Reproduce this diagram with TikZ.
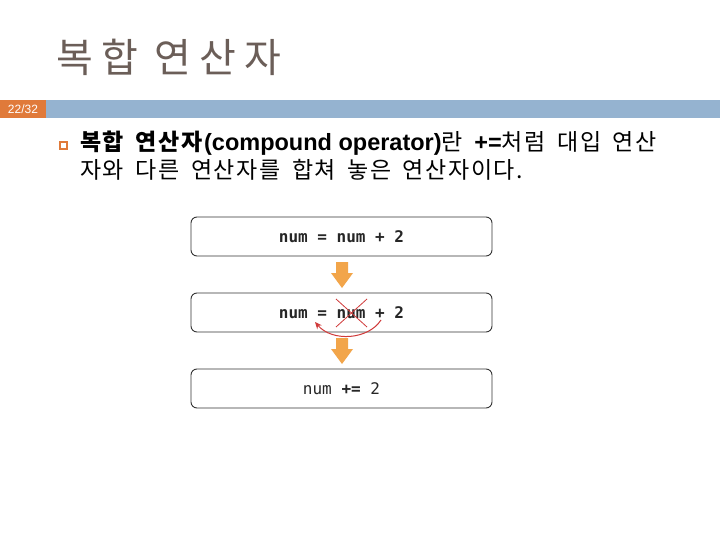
\documentclass[tikz,border=0pt]{standalone}
\usepackage{fontspec}
\setmainfont{Noto Sans CJK KR}
\newfontfamily\krfont[WordSpace=1.7,LetterSpace=7]{Noto Sans CJK KR}
\newfontfamily\krtitle[LetterSpace=20]{Noto Sans CJK KR}
\newfontfamily\latfont{Liberation Sans}
\newfontfamily\monofont{DejaVu Sans Mono}
\usetikzlibrary{arrows.meta}
\definecolor{titlegray}{HTML}{6B5E58}
\definecolor{barblue}{HTML}{95B3D0}
\definecolor{barorange}{HTML}{E07A3A}
\definecolor{arroworange}{HTML}{F2A54A}
\definecolor{crossred}{HTML}{D03A3A}
\definecolor{boxline}{HTML}{333333}
\tikzset{
  codebox/.style={draw=boxline, line width=0.9pt, rounded corners=6pt, minimum width=301pt, minimum height=39pt, inner sep=0pt, fill=white},
  codetext/.style={font=\monofont\fontsize{16pt}{16pt}\selectfont, text=black!85},
  flowarrow/.style={fill=arroworange, draw=none},
  redline/.style={draw=crossred, line width=0.8pt},
  bodytext/.style={anchor=base west, inner sep=0pt, font=\krfont\fontsize{23pt}{23pt}\selectfont},
}
\newcommand{\latbold}[1]{{\latfont\bfseries\fontsize{23.5pt}{23.5pt}\selectfont #1}}
\begin{document}
\begin{tikzpicture}[x=1pt,y=-1pt]
\useasboundingbox (0,0) rectangle (720,540);
\fill[white] (0,0) rectangle (720,540);
% title
\node[anchor=base west, inner sep=0pt, text=titlegray, font=\krtitle\fontsize{40pt}{40pt}\selectfont] (title) at (56,73) {복합 연산자};
% bar
\fill[barorange] (0,100) rectangle (46,118);
\fill[barblue] (46,100) rectangle (720,118);
\node[text=white, inner sep=0pt, font=\latfont\fontsize{12pt}{12pt}\selectfont] (page) at (23,109) {22/32};
% bullet
\draw[barorange, line width=1.3pt] (60,142) rectangle (67,149);
% body text
\node[bodytext] (line1) at (80,151)
  {\textbf{복합 연산자}\latbold{(compound operator)}란 \latbold{+=}처럼 대입 연산};
\node[bodytext] (line2) at (80,179)
  {자와 다른 연산자를 합쳐 놓은 연산자이다.};
% boxes
\node[codebox] (b1) at (341.5,236.5) {};
\node[codetext] (t1) at (341.5,236.5) {\textbf{num = num + 2}};
\node[codebox] (b2) at (341.5,312.5) {};
\node[codetext] (t2) at (341.5,312.5) {\textbf{num = num + 2}};
\node[codebox] (b3) at (341.5,388.5) {};
\node[codetext] (t3) at (341.5,388.5) {num \textbf{+=} 2};
% flow arrows
\fill[flowarrow] (336,262) -- (348,262) -- (348,273) -- (353,273) -- (342,288) -- (331,273) -- (336,273) -- cycle;
\fill[flowarrow] (336,338) -- (348,338) -- (348,349) -- (353,349) -- (342,364) -- (331,349) -- (336,349) -- cycle;
% red cross
\coordinate (c1) at (336,299);
\coordinate (c2) at (367,327);
\coordinate (c3) at (367,299);
\coordinate (c4) at (336,327);
\draw[redline] (c1) -- (c2);
\draw[redline] (c3) -- (c4);
% curved arrow
\coordinate (cs) at (381,320);
\coordinate (ce) at (315,322);
\draw[redline, line width=1pt, -{Stealth[length=7pt,width=6pt]}] (cs) .. controls (368,340) and (332,342) .. (ce);
\end{tikzpicture}
\end{document}
